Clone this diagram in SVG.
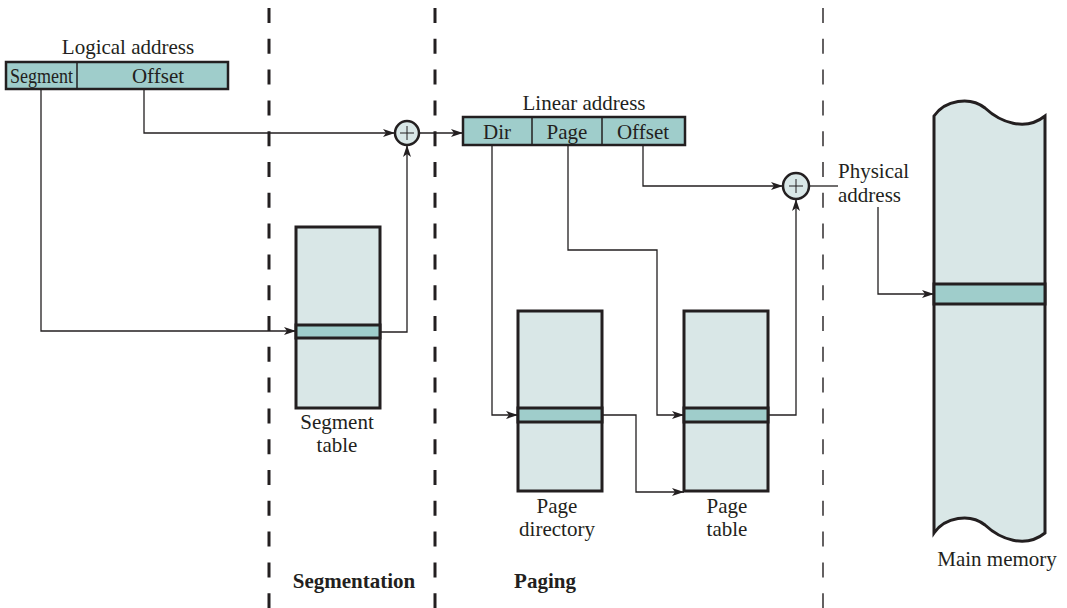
<svg xmlns="http://www.w3.org/2000/svg" width="1067" height="608" viewBox="0 0 1067 608">
<style>
.t{font-family:"Liberation Serif","Times New Roman",serif;font-size:21px;fill:#231f20}
.b{font-weight:bold}
.box{fill:#d9e7e7;stroke:#231f20;stroke-width:3}
.band{fill:#9fcdcb;stroke:#231f20;stroke-width:3}
.reg{fill:#9fcdcb;stroke:#231f20;stroke-width:2.5}
.div{stroke:#231f20;stroke-width:1.5}
.c{fill:none;stroke:#231f20;stroke-width:1.3}
.dash{stroke:#231f20;stroke-width:3;stroke-dasharray:15 15.8}
.dash2{stroke:#231f20;stroke-width:1.4;stroke-dasharray:15 15.8}
.sum{fill:#d9e7e7;stroke:#231f20;stroke-width:2.5}
.plus{stroke:#231f20;stroke-width:1}
</style>
<defs>
<marker id="ah" viewBox="0 0 12 8" refX="12" refY="4" markerWidth="12" markerHeight="8" markerUnits="userSpaceOnUse" orient="auto">
<path d="M0,0 L12,4 L0,8 L3,4 Z" fill="#231f20"/>
</marker>
</defs>
<g id="dividers">
<line class="dash" x1="269" y1="8" x2="269" y2="608"/>
<line class="dash" x1="435" y1="8" x2="435" y2="608"/>
<line class="dash2" x1="823" y1="8" x2="823" y2="608"/>
</g>
<g id="connectors">
<path class="c" d="M41,89 V331 H296" marker-end="url(#ah)"/>
<path class="c" d="M144,89 V133 H395" marker-end="url(#ah)"/>
<path class="c" d="M380,332 H407 V145" marker-end="url(#ah)"/>
<path class="c" d="M419,133 H463" marker-end="url(#ah)"/>
<path class="c" d="M492,145 V415 H518" marker-end="url(#ah)"/>
<path class="c" d="M568,145 V250 H657 V415 H684" marker-end="url(#ah)"/>
<path class="c" d="M602,415 H636 V492 H684" marker-end="url(#ah)"/>
<path class="c" d="M643,145 V186 H783" marker-end="url(#ah)"/>
<path class="c" d="M768,415 H796 V199" marker-end="url(#ah)"/>
<path class="c" d="M809,186 H838"/>
<path class="c" d="M878,207 V294 H934" marker-end="url(#ah)"/>
</g>
<g id="logical-address">
<text class="t" x="128" y="54" text-anchor="middle">Logical address</text>
<rect class="reg" x="6" y="62" width="222" height="27"/>
<line class="div" x1="77" y1="62" x2="77" y2="89"/>
<text class="t" x="41.5" y="83" text-anchor="middle" textLength="63" lengthAdjust="spacingAndGlyphs">Segment</text>
<text class="t" x="158" y="83" text-anchor="middle">Offset</text>
</g>
<g id="adder1">
<circle class="sum" cx="407" cy="133" r="12"/>
<line class="plus" x1="400" y1="133" x2="414" y2="133"/>
<line class="plus" x1="407" y1="126" x2="407" y2="140"/>
</g>
<g id="segment-table">
<rect class="box" x="296" y="227" width="84" height="181"/>
<rect class="band" x="296" y="325" width="84" height="13"/>
<text class="t" x="337" y="429" text-anchor="middle">Segment</text>
<text class="t" x="337" y="452" text-anchor="middle">table</text>
</g>
<g id="linear-address">
<text class="t" x="584" y="110" text-anchor="middle">Linear address</text>
<rect class="reg" x="463" y="117" width="222" height="28"/>
<line class="div" x1="532" y1="117" x2="532" y2="145"/>
<line class="div" x1="602" y1="117" x2="602" y2="145"/>
<text class="t" x="497" y="139" text-anchor="middle">Dir</text>
<text class="t" x="567" y="139" text-anchor="middle">Page</text>
<text class="t" x="643" y="139" text-anchor="middle">Offset</text>
</g>
<g id="page-directory">
<rect class="box" x="518" y="311" width="84" height="180"/>
<rect class="band" x="518" y="408" width="84" height="14"/>
<text class="t" x="557" y="513" text-anchor="middle">Page</text>
<text class="t" x="557" y="536" text-anchor="middle">directory</text>
</g>
<g id="page-table">
<rect class="box" x="684" y="311" width="84" height="180"/>
<rect class="band" x="684" y="408" width="84" height="14"/>
<text class="t" x="727" y="513" text-anchor="middle">Page</text>
<text class="t" x="727" y="536" text-anchor="middle">table</text>
</g>
<g id="adder2">
<circle class="sum" cx="796" cy="186" r="13"/>
<line class="plus" x1="789" y1="186" x2="803" y2="186"/>
<line class="plus" x1="796" y1="179" x2="796" y2="193"/>
</g>
<g id="physical-address">
<text class="t" x="838" y="178">Physical</text>
<text class="t" x="838" y="202">address</text>
</g>
<g id="main-memory">
<path class="box" d="M934,116 C945,100 970,96 985,108 C1000,122 1025,132 1045,116 V533 C1025,549 1000,539 985,525 C970,513 945,517 934,533 Z"/>
<rect class="band" x="934" y="284" width="111" height="20"/>
<text class="t" x="997" y="566" text-anchor="middle">Main memory</text>
</g>
<g id="labels">
<text class="t b" x="354" y="588" text-anchor="middle">Segmentation</text>
<text class="t b" x="545" y="588" text-anchor="middle">Paging</text>
</g>
</svg>
